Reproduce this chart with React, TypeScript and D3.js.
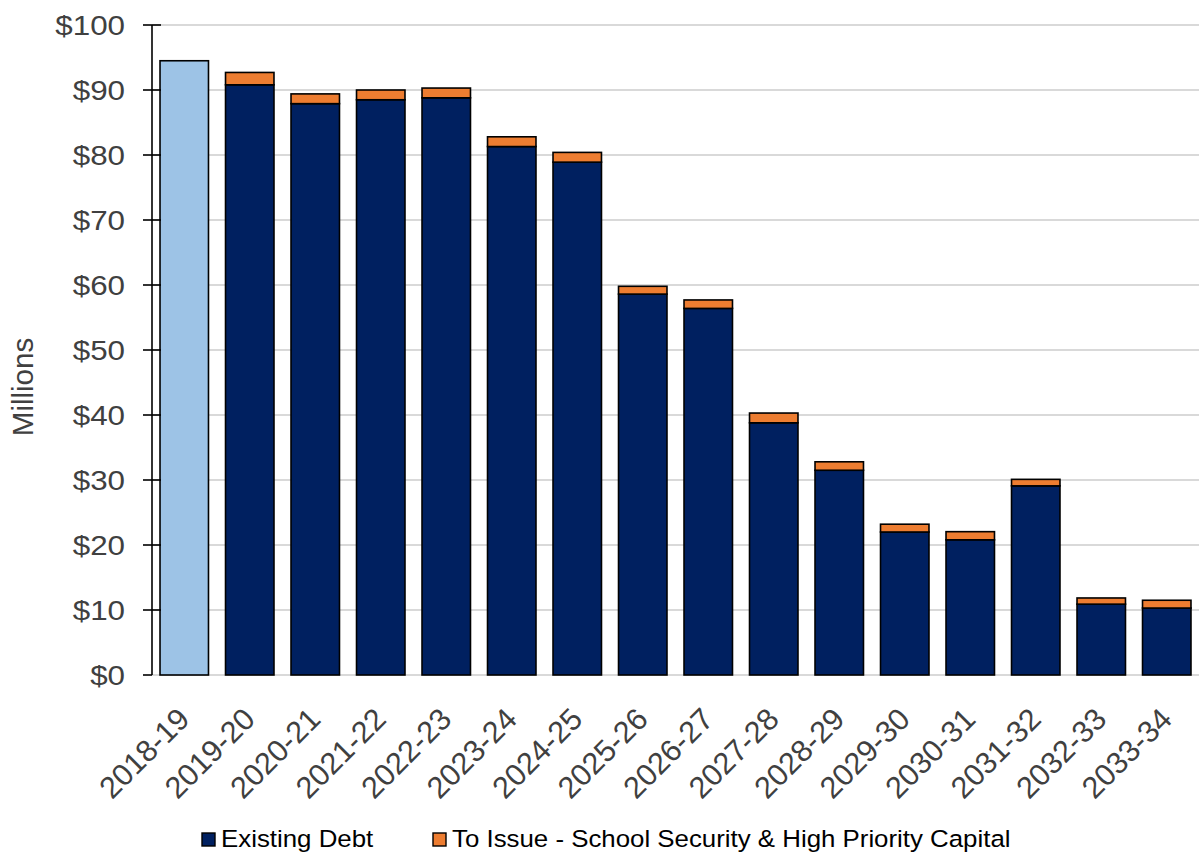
import React from "react";
import * as d3 from "d3";

// Fiscal years on the category axis
const categories = [
  "2018-19", "2019-20", "2020-21", "2021-22", "2022-23", "2023-24", "2024-25", "2025-26",
  "2026-27", "2027-28", "2028-29", "2029-30", "2030-31", "2031-32", "2032-33", "2033-34",
];

// Debt service, $ millions
const currentYear = [94.5, 0, 0, 0, 0, 0, 0, 0, 0, 0, 0, 0, 0, 0, 0, 0];
const existingDebt = [0, 90.8, 87.9, 88.5, 88.8, 81.3, 78.9, 58.6, 56.4, 38.8, 31.5, 22.0, 20.8, 29.1, 10.9, 10.3];
const toIssue = [0, 1.9, 1.5, 1.5, 1.5, 1.5, 1.5, 1.2, 1.3, 1.5, 1.3, 1.2, 1.25, 1.0, 0.95, 1.2];

const yTicks = [0, 10, 20, 30, 40, 50, 60, 70, 80, 90, 100];

const seriesKeys = ["current", "existing", "issue"] as const;
const seriesColors: Record<string, string> = {
  current: "#9DC3E6",
  existing: "#002060",
  issue: "#ED7D31",
};
const legendItems = [
  { key: "existing", label: "Existing Debt" },
  { key: "issue", label: "To Issue - School Security & High Priority Capital" },
];

const W = 1199;
const H = 859;
const FONT = "'Liberation Sans', Arial, Helvetica, sans-serif";

export default function App() {
  const rows = categories.map((c, i) => ({
    category: c,
    current: currentYear[i],
    existing: existingDebt[i],
    issue: toIssue[i],
  }));

  const x = d3
    .scaleBand<string>()
    .domain(categories)
    .range([151.5, 1199.5])
    .paddingInner(0.26)
    .paddingOuter(0.13);

  const y = d3.scaleLinear().domain([0, 100]).range([675, 25]);

  const stacked = d3.stack<any>().keys(seriesKeys as unknown as string[])(rows);

  const axisX = 152;

  return (
    <svg
      width={W}
      height={H}
      style={{ position: "absolute", left: 0, top: 0, background: "#fff" }}
      fontFamily={FONT}
    >
      {/* gridlines */}
      {yTicks.map((t) => (
        <line
          key={`g${t}`}
          x1={axisX}
          x2={W}
          y1={y(t)}
          y2={y(t)}
          stroke="#D9D9D9"
          strokeWidth={2}
        />
      ))}

      {/* stacked bars */}
      {stacked.map((s) => (
        <g key={s.key} fill={seriesColors[s.key]} stroke="#000" strokeWidth={1.6}>
          {s.map((d, i) =>
            d[1] - d[0] > 0 ? (
              <rect
                key={i}
                x={x(categories[i])}
                width={x.bandwidth()}
                y={y(d[1])}
                height={y(d[0]) - y(d[1])}
              />
            ) : null
          )}
        </g>
      ))}

      {/* value axis */}
      <line x1={axisX} x2={axisX} y1={y(100)} y2={y(0)} stroke="#000" strokeWidth={1.6} />
      {yTicks.map((t) => (
        <line
          key={`t${t}`}
          x1={143}
          x2={t === 0 ? axisX : 161}
          y1={y(t)}
          y2={y(t)}
          stroke="#000"
          strokeWidth={1.6}
        />
      ))}
      {yTicks.map((t) => (
        <text
          key={`l${t}`}
          transform={`translate(125,${y(t)}) scale(1.1,1)`}
          textAnchor="end"
          dy="0.35em"
          fontSize={28.5}
          fill="#404040"
        >
          {`$${t}`}
        </text>
      ))}

      {/* category labels */}
      {categories.map((c) => (
        <text
          key={c}
          transform={`translate(${(x(c) as number) + x.bandwidth() / 2 + 7},721) rotate(-45)`}
          textAnchor="end"
          fontSize={30.5}
          fill="#404040"
        >
          {c}
        </text>
      ))}

      {/* axis title */}
      <text
        transform="translate(33,387) rotate(-90)"
        textAnchor="middle"
        fontSize={29.5}
        fill="#404040"
      >
        Millions
      </text>

      {/* legend */}
      {legendItems.map((item, i) => {
        const lx = i === 0 ? 202 : 433;
        return (
          <g key={item.key}>
            <rect
              x={lx}
              y={833}
              width={13}
              height={13}
              fill={seriesColors[item.key]}
              stroke="#000"
              strokeWidth={1.4}
            />
            <text
              transform={`translate(${lx + 19},847) scale(1.1,1)`}
              fontSize={23.5}
              fill="#000"
            >
              {item.label}
            </text>
          </g>
        );
      })}
    </svg>
  );
}
